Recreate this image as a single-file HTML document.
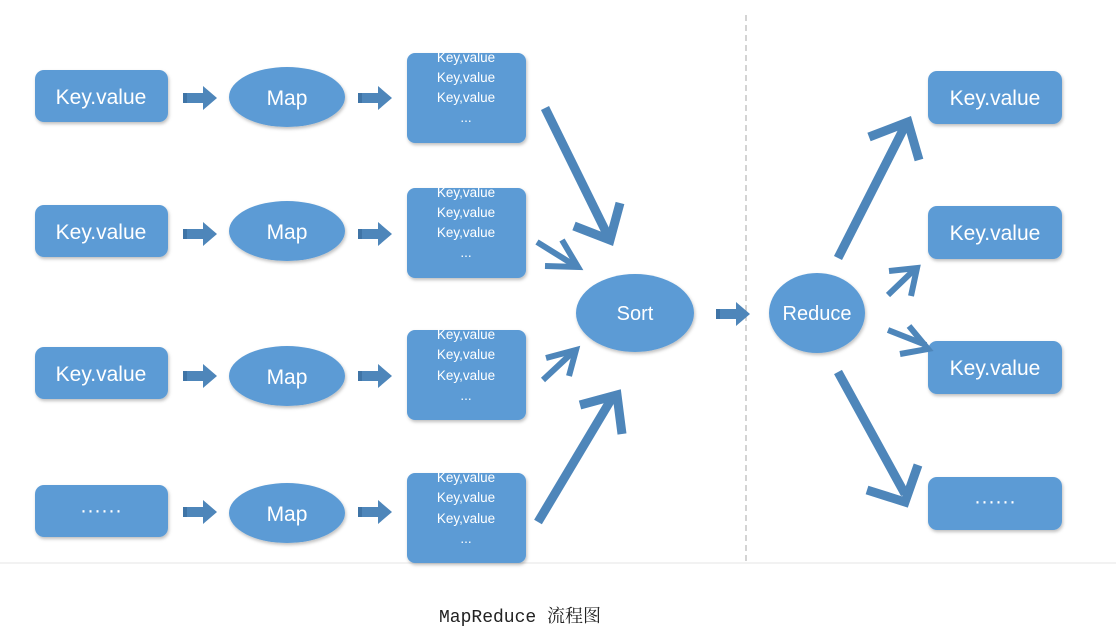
<!DOCTYPE html>
<html><head><meta charset="utf-8"><style>
body{margin:0;background:#fff;width:1116px;height:644px;overflow:hidden}
</style></head><body>
<svg width="1116" height="644" xmlns="http://www.w3.org/2000/svg" style="position:absolute;left:0;top:0">
<defs>
<filter id="s" x="-10%" y="-10%" width="130%" height="140%"><feDropShadow dx="1" dy="2" stdDeviation="1.5" flood-color="#000" flood-opacity="0.25"/></filter>
<g id="blk"><polygon points="0,-5 20,-5 20,-12 34,0 20,12 20,5 0,5" fill="#4e86ba"/><rect x="0" y="-5" width="4" height="10" fill="#3f74a6"/></g>
</defs>
<line x1="746" y1="15" x2="746" y2="562" stroke="#aaa" stroke-dasharray="6,4"/>
<line x1="0" y1="563" x2="1116" y2="563" stroke="#e6e6e6"/>
<g fill="#5b9bd5" filter="url(#s)">
<rect x="35" y="70" width="133" height="52" rx="9"/>
<rect x="35" y="205" width="133" height="52" rx="9"/>
<rect x="35" y="347" width="133" height="52" rx="9"/>
<rect x="35" y="485" width="133" height="52" rx="9"/>
<ellipse cx="287" cy="97" rx="58" ry="30"/>
<ellipse cx="287" cy="231" rx="58" ry="30"/>
<ellipse cx="287" cy="376" rx="58" ry="30"/>
<ellipse cx="287" cy="513" rx="58" ry="30"/>
<rect x="407" y="53" width="119" height="90" rx="8"/>
<rect x="407" y="188" width="119" height="90" rx="8"/>
<rect x="407" y="330" width="119" height="90" rx="8"/>
<rect x="407" y="473" width="119" height="90" rx="8"/>
<ellipse cx="635" cy="313" rx="59" ry="39"/>
<ellipse cx="817" cy="313" rx="48" ry="40"/>
<rect x="928" y="71" width="134" height="53" rx="9"/>
<rect x="928" y="206" width="134" height="53" rx="9"/>
<rect x="928" y="341" width="134" height="53" rx="9"/>
<rect x="928" y="477" width="134" height="53" rx="9"/>
</g>
<use href="#blk" x="183" y="98"/><use href="#blk" x="358" y="98"/>
<use href="#blk" x="183" y="234"/><use href="#blk" x="358" y="234"/>
<use href="#blk" x="183" y="376"/><use href="#blk" x="358" y="376"/>
<use href="#blk" x="183" y="512"/><use href="#blk" x="358" y="512"/>
<use href="#blk" x="716" y="314"/>
<g stroke="#4e86ba" fill="none" stroke-linecap="butt" stroke-linejoin="miter">
<g stroke-width="9">
<line x1="545" y1="108" x2="608" y2="236"/><polyline points="574,226 610,240 620,203"/>
<line x1="538" y1="522" x2="612" y2="398"/><polyline points="580,405 617,395 622,434"/>
<line x1="838" y1="258" x2="905" y2="126"/><polyline points="869,137 908,122 919,160"/>
<line x1="838" y1="372" x2="905" y2="494"/><polyline points="867,490 905,502 918,465"/>
</g>
<g stroke-width="6">
<line x1="537" y1="242" x2="574" y2="265"/><polyline points="545,266 578,267 562,240"/>
<line x1="543" y1="380" x2="573" y2="352"/><polyline points="546,358 576,350 569,376"/>
<line x1="888" y1="295" x2="914" y2="270"/><polyline points="889,271 917,268 911,296"/>
<line x1="888" y1="330" x2="926" y2="345"/><polyline points="900,354 928,349 909,326"/>
</g>
</g>
<g fill="#fff" font-family="Liberation Sans, sans-serif" font-size="21" text-anchor="middle">
<text x="101" y="104">Key.value</text><text x="101" y="239">Key.value</text><text x="101" y="381">Key.value</text><text x="101" y="517">······</text>
<text x="287" y="105">Map</text><text x="287" y="239">Map</text><text x="287" y="384">Map</text><text x="287" y="521">Map</text>
<text x="635" y="320" font-size="20">Sort</text><text x="817" y="320" font-size="20">Reduce</text>
<text x="995" y="105">Key.value</text><text x="995" y="240">Key.value</text><text x="995" y="375">Key.value</text><text x="995" y="508">······</text>
</g>
<g fill="#fff" font-family="Liberation Sans, sans-serif" font-size="13.5" text-anchor="middle">
<text x="466" y="62">Key,value</text><text x="466" y="82">Key,value</text><text x="466" y="102">Key,value</text><text x="466" y="122">...</text>
<text x="466" y="197">Key,value</text><text x="466" y="217">Key,value</text><text x="466" y="237">Key,value</text><text x="466" y="257">...</text>
<text x="466" y="339">Key,value</text><text x="466" y="359">Key,value</text><text x="466" y="380">Key,value</text><text x="466" y="400">...</text>
<text x="466" y="482">Key,value</text><text x="466" y="502">Key,value</text><text x="466" y="523">Key,value</text><text x="466" y="543">...</text>
</g>
<text x="520" y="622" text-anchor="middle" font-family="Liberation Mono, Noto Serif CJK SC, monospace" font-size="18" fill="#222">MapReduce 流程图</text>
</svg>
</body></html>
